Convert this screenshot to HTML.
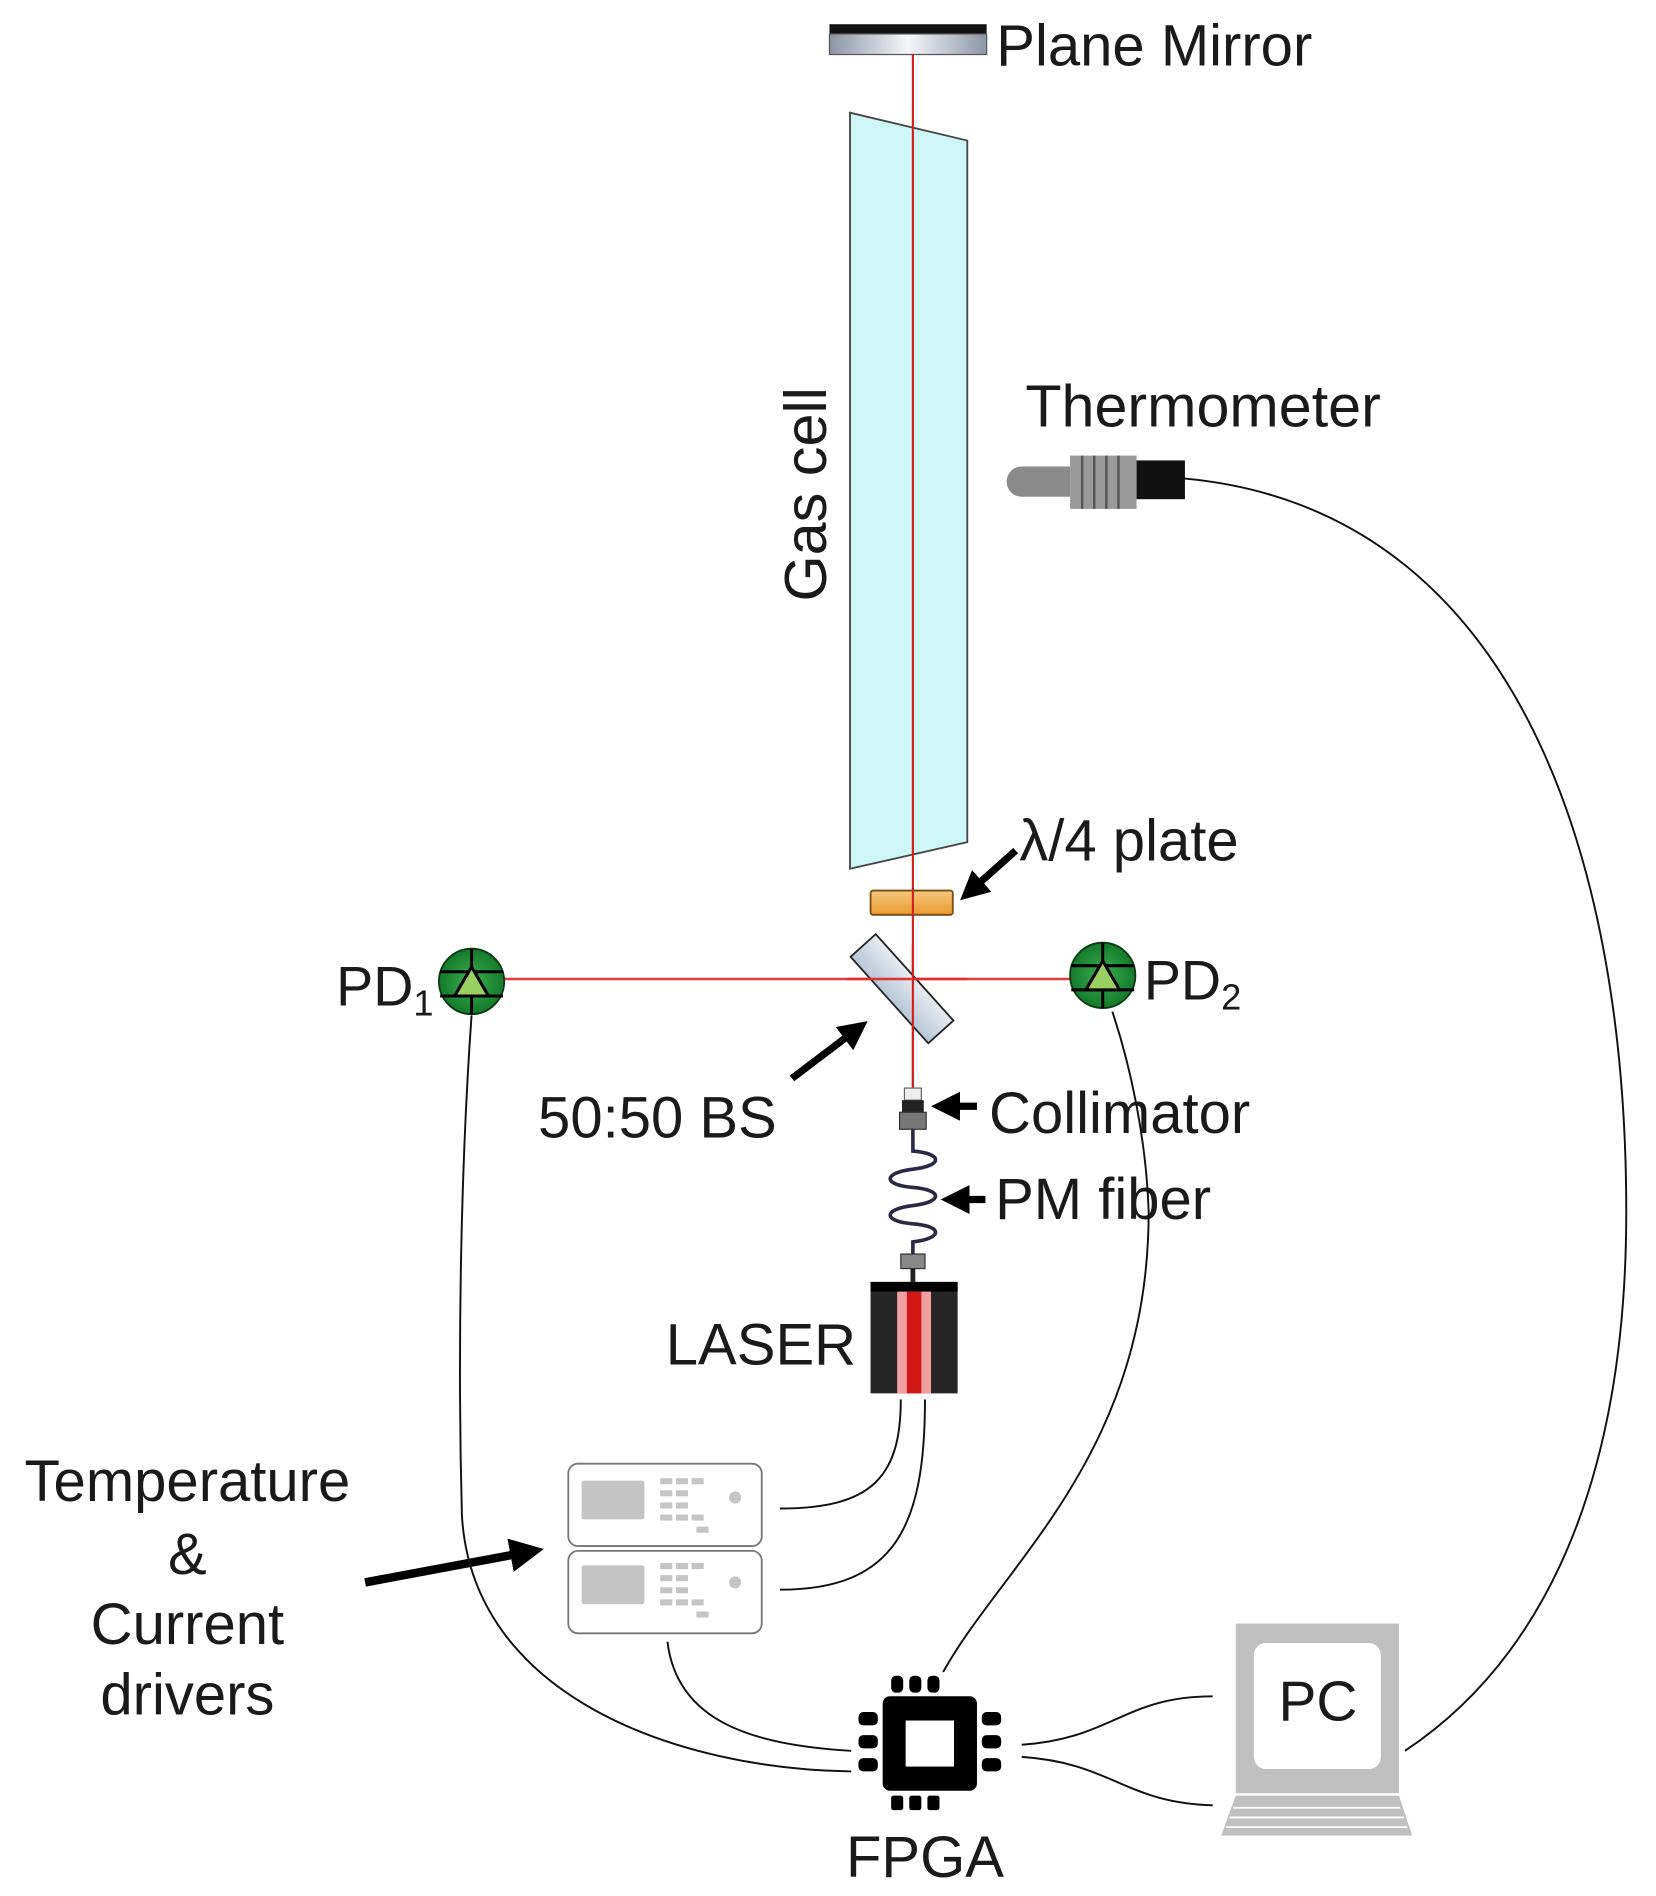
<!DOCTYPE html>
<html><head><meta charset="utf-8"><style>
html,body{margin:0;padding:0;background:#fff}
svg{display:block}
text{font-family:"Liberation Sans",sans-serif;fill:#1a1a1a}
</style></head><body>
<svg width="1656" height="1896" viewBox="0 0 1360 1557" preserveAspectRatio="none" xmlns="http://www.w3.org/2000/svg">
<defs>
<linearGradient id="mg" x1="0" x2="1"><stop offset="0" stop-color="#8a96a6"/><stop offset="0.5" stop-color="#f4f6f8"/><stop offset="1" stop-color="#8a96a6"/></linearGradient>
<linearGradient id="bsg" x1="0" x2="1"><stop offset="0" stop-color="#b8c6d8"/><stop offset="1" stop-color="#e8ecf0"/></linearGradient>
<linearGradient id="og" x1="0" x2="0" y1="0" y2="1"><stop offset="0" stop-color="#f7c880"/><stop offset="1" stop-color="#e89a30"/></linearGradient>
<radialGradient id="pdg"><stop offset="0" stop-color="#3cb050"/><stop offset="1" stop-color="#137a2a"/></radialGradient>
<marker id="ah" markerWidth="4" markerHeight="4" refX="2" refY="2" orient="auto" markerUnits="strokeWidth"><path d="M0,0 L4,2 L0,4 z" fill="#000"/></marker>
</defs>
<g transform="scale(0.993,0.995)">
<!-- mirror -->
<rect x="686" y="20" width="130" height="8" fill="#111"/>
<rect x="686" y="28" width="130" height="17" fill="url(#mg)" stroke="#555" stroke-width="1"/>
<text x="824" y="54" font-size="48">Plane Mirror</text>
<!-- gas cell -->
<polygon points="703,93 800,116 800,695 703,717" fill="#cff6f6" stroke="#444" stroke-width="1.5"/>
<text transform="translate(683,408) rotate(-90)" font-size="49" text-anchor="middle">Gas cell</text>
<!-- beams -->
<line x1="755" y1="45" x2="755" y2="900" stroke="#d42020" stroke-width="1.8"/>
<line x1="392" y1="808" x2="912" y2="808" stroke="#e04040" stroke-width="2"/>
<!-- lambda/4 -->
<rect x="720" y="735" width="68" height="20" rx="2" fill="url(#og)" stroke="#7a4a10" stroke-width="1.5"/>
<line x1="755" y1="735" x2="755" y2="755" stroke="#d42020" stroke-width="1.8"/>
<line x1="840" y1="702" x2="803" y2="735" stroke="#000" stroke-width="6" marker-end="url(#ah)"/>
<text x="843" y="710" font-size="48">λ/4 plate</text>
<!-- BS -->
<rect x="-14" y="-48" width="28" height="96" transform="translate(746,816) rotate(-42)" fill="url(#bsg)" stroke="#222" stroke-width="1.5"/>
<line x1="755" y1="780" x2="755" y2="900" stroke="#d42020" stroke-width="1.8"/>
<line x1="700" y1="808" x2="800" y2="808" stroke="#e03030" stroke-width="2"/>
<line x1="655" y1="890" x2="708" y2="850" stroke="#000" stroke-width="6" marker-end="url(#ah)"/>
<text x="445" y="939" font-size="48">50:50 BS</text>
<!-- PDs -->
<g transform="translate(390,810)">
<circle r="27" fill="url(#pdg)" stroke="#0a3a12" stroke-width="1.5"/>
<line x1="-26" y1="-8" x2="26" y2="-8" stroke="#000" stroke-width="2.5"/><line x1="-26" y1="12" x2="26" y2="12" stroke="#000" stroke-width="2.5"/>
<line x1="0" y1="-27" x2="0" y2="27" stroke="#000" stroke-width="2.5"/>
<polygon points="0,-12 -14,12 14,12" fill="#9ad060" stroke="#000" stroke-width="2.5"/>
</g>
<g transform="translate(912,805)">
<circle r="27" fill="url(#pdg)" stroke="#0a3a12" stroke-width="1.5"/>
<line x1="-26" y1="-8" x2="26" y2="-8" stroke="#000" stroke-width="2.5"/><line x1="-26" y1="12" x2="26" y2="12" stroke="#000" stroke-width="2.5"/>
<line x1="0" y1="-27" x2="0" y2="27" stroke="#000" stroke-width="2.5"/>
<polygon points="0,-12 -14,12 14,12" fill="#9ad060" stroke="#000" stroke-width="2.5"/>
</g>
<text x="278" y="830" font-size="46">PD<tspan font-size="30" dy="8">1</tspan></text>
<text x="946" y="825" font-size="46">PD<tspan font-size="30" dy="8">2</tspan></text>
<!-- collimator -->
<rect x="748" y="898" width="14" height="10" fill="#eee" stroke="#666"/>
<rect x="746" y="908" width="18" height="10" fill="#222"/>
<rect x="744" y="918" width="22" height="14" fill="#777" stroke="#333"/>
<line x1="808" y1="913" x2="782" y2="913" stroke="#000" stroke-width="6" marker-end="url(#ah)"/>
<text x="818" y="935" font-size="48">Collimator</text>
<!-- fiber -->
<path d="M755,932 L755,950 C780,952 780,962 755,965 C730,968 730,978 755,980 C780,982 780,992 755,995 C730,998 730,1008 755,1010 C780,1012 780,1022 755,1025 L755,1035" fill="none" stroke="#2a2a48" stroke-width="3"/>
<line x1="815" y1="990" x2="790" y2="990" stroke="#000" stroke-width="6" marker-end="url(#ah)"/>
<text x="823" y="1006" font-size="48">PM fiber</text>
<rect x="745" y="1035" width="20" height="12" fill="#888" stroke="#333"/>
<line x1="755" y1="1047" x2="755" y2="1058" stroke="#222" stroke-width="4"/>
<!-- laser -->
<rect x="720" y="1058" width="72" height="92" fill="#262626"/>
<rect x="720" y="1058" width="72" height="8" fill="#000"/>
<rect x="742" y="1066" width="28" height="84" fill="#f0a0a0"/>
<rect x="750" y="1066" width="12" height="84" fill="#d01818"/>
<text x="708" y="1126" font-size="48" text-anchor="end">LASER</text>
<!-- drivers -->
<g stroke="#777" stroke-width="1.5" fill="#fff">
<rect x="470" y="1208" width="160" height="68" rx="8"/>
<rect x="470" y="1280" width="160" height="68" rx="8"/>
</g>
<g fill="#c4c4c4">
<rect x="481" y="1222" width="52" height="32" rx="2"/>
<rect x="481" y="1292" width="52" height="32" rx="2"/>
<circle cx="608" cy="1236" r="5"/><circle cx="608" cy="1306" r="5"/>
<rect x="546" y="1220" width="10" height="5"/><rect x="559" y="1220" width="10" height="5"/><rect x="572" y="1220" width="10" height="5"/>
<rect x="546" y="1230" width="10" height="5"/><rect x="559" y="1230" width="10" height="5"/>
<rect x="546" y="1240" width="10" height="5"/><rect x="559" y="1240" width="10" height="5"/>
<rect x="546" y="1250" width="10" height="5"/><rect x="559" y="1250" width="10" height="5"/><rect x="572" y="1250" width="10" height="5"/><rect x="576" y="1260" width="10" height="5"/>
<rect x="546" y="1290" width="10" height="5"/><rect x="559" y="1290" width="10" height="5"/><rect x="572" y="1290" width="10" height="5"/>
<rect x="546" y="1300" width="10" height="5"/><rect x="559" y="1300" width="10" height="5"/>
<rect x="546" y="1310" width="10" height="5"/><rect x="559" y="1310" width="10" height="5"/>
<rect x="546" y="1320" width="10" height="5"/><rect x="559" y="1320" width="10" height="5"/><rect x="572" y="1320" width="10" height="5"/><rect x="576" y="1330" width="10" height="5"/>
</g>
<line x1="302" y1="1306" x2="436" y2="1281" stroke="#000" stroke-width="7" marker-end="url(#ah)"/>
<g font-size="48" text-anchor="middle">
<text x="155" y="1239">Temperature</text>
<text x="155" y="1299">&amp;</text>
<text x="155" y="1357">Current</text>
<text x="155" y="1415">drivers</text>
</g>
<!-- FPGA -->
<rect x="730" y="1400" width="78" height="78" rx="6" fill="#000"/>
<rect x="749" y="1420" width="40" height="38" fill="#fff"/>
<g fill="#000">
<rect x="737" y="1383" width="10" height="14" rx="4"/><rect x="752" y="1383" width="10" height="14" rx="4"/><rect x="767" y="1383" width="10" height="14" rx="4"/>
<rect x="737" y="1482" width="10" height="12" rx="2"/><rect x="752" y="1482" width="10" height="12" rx="2"/><rect x="767" y="1482" width="10" height="12" rx="2"/>
<rect x="710" y="1413" width="16" height="11" rx="4"/><rect x="710" y="1432" width="16" height="11" rx="4"/><rect x="710" y="1451" width="16" height="11" rx="4"/>
<rect x="812" y="1413" width="16" height="11" rx="4"/><rect x="812" y="1432" width="16" height="11" rx="4"/><rect x="812" y="1451" width="16" height="11" rx="4"/>
</g>
<text x="765" y="1549" font-size="48" text-anchor="middle">FPGA</text>
<!-- PC -->
<rect x="1022" y="1340" width="135" height="140" fill="#c0c0c0"/>
<rect x="1037" y="1356" width="105" height="104" rx="10" fill="#fff"/>
<text x="1090" y="1420" font-size="47" text-anchor="middle">PC</text>
<polygon points="1022,1482 1157,1482 1168,1515 1010,1515" fill="#c0c0c0"/>
<g stroke="#fff" stroke-width="1.5"><line x1="1020" y1="1492" x2="1158" y2="1492"/><line x1="1017" y1="1500" x2="1161" y2="1500"/><line x1="1014" y1="1508" x2="1164" y2="1508"/></g>
<!-- thermometer -->
<path d="M845,385 L885,385 L885,410 L845,410 A12.5,12.5 0 0 1 845,385 z" fill="#8a8a8a"/>
<rect x="885" y="376" width="55" height="44" fill="#999"/>
<g stroke="#555" stroke-width="2"><line x1="895" y1="376" x2="895" y2="420"/><line x1="905" y1="376" x2="905" y2="420"/><line x1="915" y1="376" x2="915" y2="420"/><line x1="925" y1="376" x2="925" y2="420"/></g>
<rect x="940" y="380" width="40" height="32" fill="#111"/>
<text x="848" y="352" font-size="49">Thermometer</text>
<!-- cables -->
<g fill="none" stroke="#111" stroke-width="1.6">
<path d="M980,395 C1250,420 1345,700 1345,1000 C1345,1250 1260,1380 1162,1445"/>
<path d="M390,838 C382,950 378,1100 382,1250 C390,1400 560,1460 704,1462"/>
<path d="M920,835 C935,880 948,940 950,1000 C950,1200 830,1290 780,1380"/>
<path d="M552,1355 C560,1420 620,1440 704,1445"/>
<path d="M745,1155 C745,1220 720,1245 645,1245"/>
<path d="M765,1155 C765,1260 740,1312 645,1312"/>
<path d="M845,1440 C920,1435 930,1400 1003,1400"/>
<path d="M845,1450 C920,1455 930,1488 1003,1490"/>
</g>
</g>
</svg>
</body></html>
